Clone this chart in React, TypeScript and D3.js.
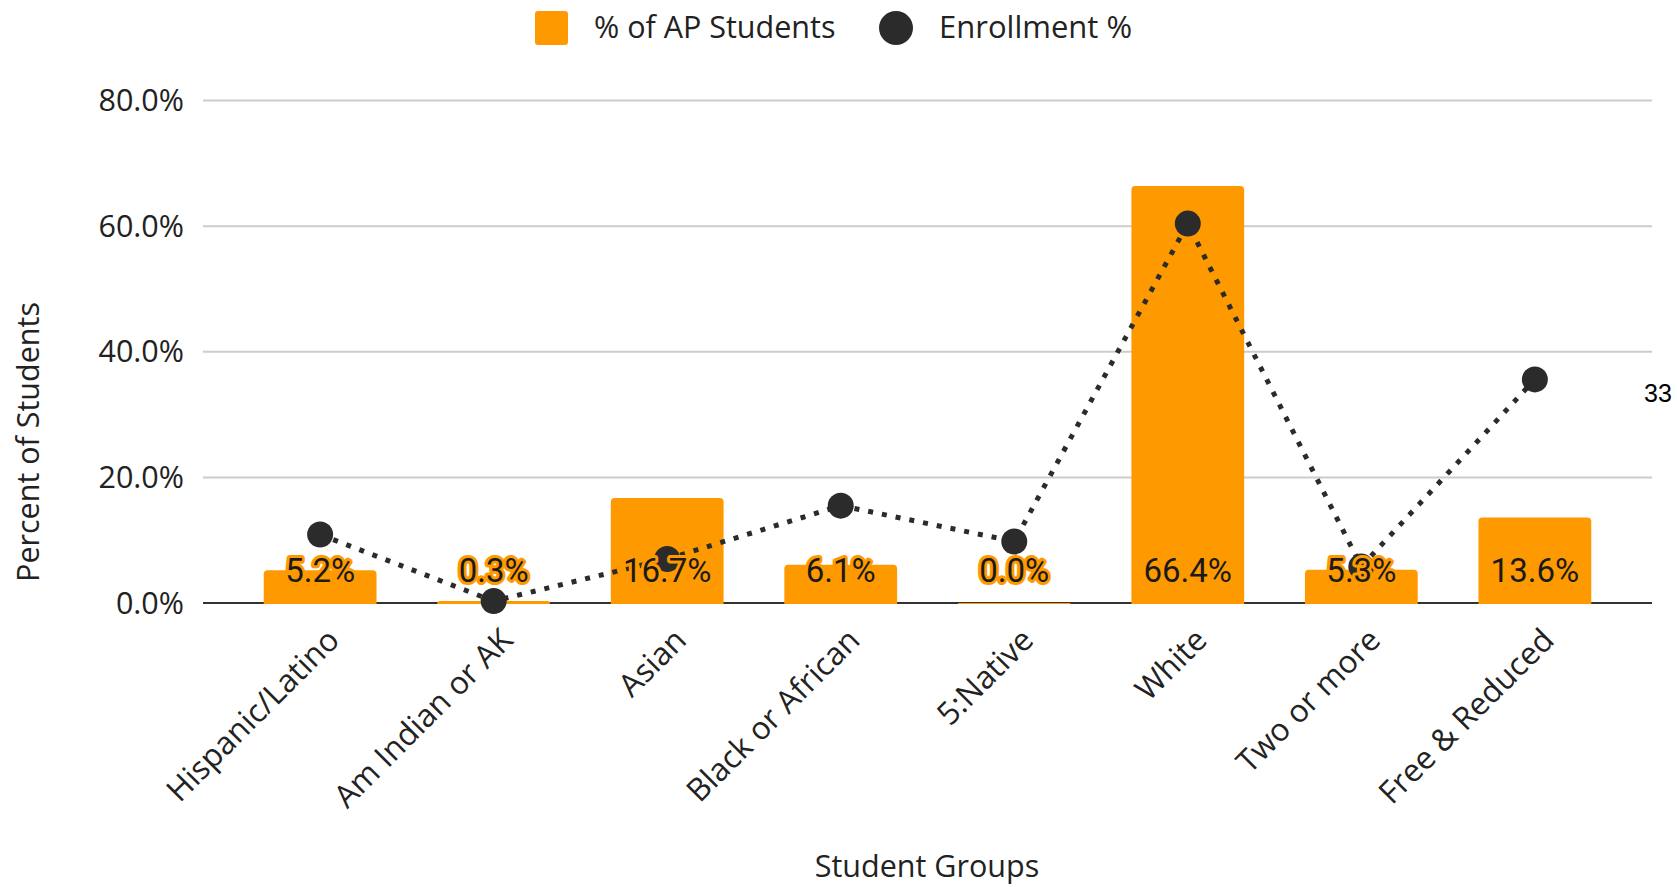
import React from "react";
import * as d3 from "d3";

const categories = ["Hispanic/Latino", "Am Indian or AK", "Asian", "Black or African", "5:Native", "White", "Two or more", "Free & Reduced"];
const apStudents = [5.2, 0.3, 16.7, 6.1, 0.0, 66.4, 5.3, 13.6];
const enrollment = [10.9, 0.3, 7.0, 15.5, 9.8, 60.4, 5.8, 35.6];
const yTicks = [0, 20, 40, 60, 80];

const W = 1677;
const H = 887;
const left = 203;
const right = 1652;
const top = 100.5;
const bottom = 603;
const ORANGE = "#FF9900";
const DARK = "#2b2b2b";
const FONT = "'Open Sans', sans-serif";
const FS = 30.5;

export default function App() {
  const x = d3.scaleBand<string>().domain(categories).range([left, right]).padding(0.35);
  const y = d3.scaleLinear().domain([0, 80]).range([bottom, top]);
  const line = d3
    .line<number>()
    .x((_, i) => (x(categories[i]) as number) + x.bandwidth() / 2)
    .y((d) => y(d));

  const bw = x.bandwidth();
  const barPath = (x0: number, y0: number, w: number, h: number) => {
    const r = Math.min(4, h, w / 2);
    if (h <= 0) return "";
    return `M${x0},${y0 + h}V${y0 + r}Q${x0},${y0} ${x0 + r},${y0}H${x0 + w - r}Q${x0 + w},${y0} ${x0 + w},${y0 + r}V${y0 + h}Z`;
  };

  return (
    <svg width={W} height={H} style={{ position: "absolute", left: 0, top: 0, background: "#fff" }}>
      <rect x={0} y={0} width={W} height={H} fill="#fff" />
      {/* Legend */}
      <rect x={535} y={11} width={33} height={34} rx={3} fill={ORANGE} />
      <text x={594} y={27} dy="0.35em" fontFamily={FONT} fontSize={FS} fill="#222">% of AP Students</text>
      <circle cx={896} cy={28} r={17} fill={DARK} />
      <text x={939} y={27} dy="0.35em" fontFamily={FONT} fontSize={FS + 0.5} fill="#222">Enrollment %</text>

      {/* Grid */}
      {yTicks.map((t) => (
        <g key={t}>
          {t !== 0 && <line x1={left} x2={right} y1={y(t)} y2={y(t)} stroke="#cccccc" strokeWidth={2} />}
          <text x={184} y={y(t)} dy="0.35em" textAnchor="end" fontFamily={FONT} fontSize={FS} fill="#222">
            {t.toFixed(1) + "%"}
          </text>
        </g>
      ))}
      <line x1={left} x2={right} y1={y(0)} y2={y(0)} stroke="#333" strokeWidth={2} />

      {/* Bars */}
      {apStudents.map((v, i) => {
        const x0 = x(categories[i]) as number;
        const y0 = y(v);
        return <path key={i} d={barPath(x0, y0, bw, y(0) - y0 + 1)} fill={ORANGE} />;
      })}

      {/* Enrollment line */}
      <path d={line(enrollment) || ""} fill="none" stroke={DARK} strokeWidth={5} strokeDasharray="5 9" />
      {enrollment.map((v, i) => (
        <circle key={i} cx={(x(categories[i]) as number) + bw / 2} cy={y(v)} r={13} fill={DARK} />
      ))}

      {/* Bar labels */}
      {apStudents.map((v, i) => (
        <text
          key={i}
          x={(x(categories[i]) as number) + bw / 2}
          y={582}
          textAnchor="middle"
          fontFamily="Roboto, sans-serif"
          fontSize={33}
          fill="#1a1a1a"
          stroke={ORANGE}
          strokeWidth={6}
          strokeLinejoin="round"
          paintOrder="stroke"
        >
          {v.toFixed(1) + "%"}
        </text>
      ))}

      {/* X labels */}
      {categories.map((c) => {
        const cx = (x(c) as number) + bw / 2 + 21;
        const cy = bottom + 39;
        return (
          <text
            key={c}
            x={cx}
            y={cy}
            textAnchor="end"
            transform={`rotate(-45 ${cx} ${cy})`}
            fontFamily={FONT}
            fontSize={31.5}
            fill="#222"
          >
            {c}
          </text>
        );
      })}

      {/* Axis titles */}
      <text x={927} y={866} dy="0.35em" textAnchor="middle" fontFamily={FONT} fontSize={FS} fill="#222">
        Student Groups
      </text>
      <text
        x={28}
        y={442}
        dy="0.35em"
        textAnchor="middle"
        transform="rotate(-90 28 442)"
        fontFamily={FONT}
        fontSize={FS}
        fill="#222"
      >
        Percent of Students
      </text>

      <text x={1644} y={402} fontFamily="'Liberation Sans', Arial, sans-serif" fontSize={25} fill="#000">33</text>
    </svg>
  );
}
